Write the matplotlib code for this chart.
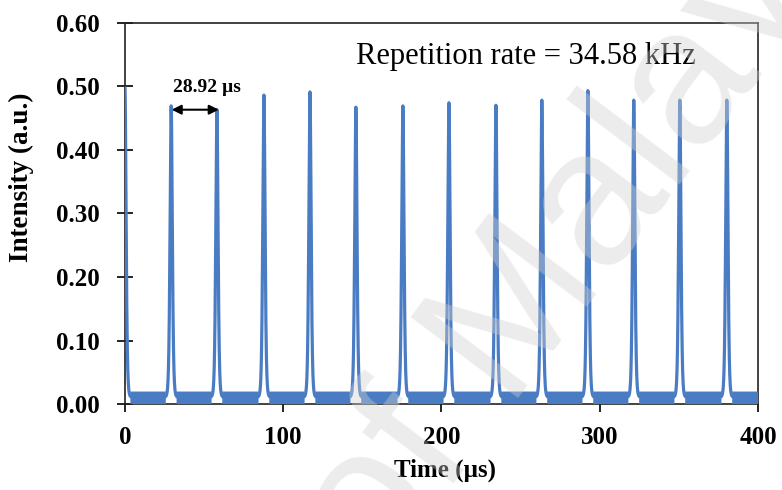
import numpy as np
import matplotlib
matplotlib.use("Agg")
import matplotlib.pyplot as plt

# Pulse train: centre time (µs) and peak intensity (a.u.) of each pulse
peak_times = [0.0, 29.2, 58.1, 87.8, 116.9, 145.9, 175.6, 204.7,
              234.4, 263.4, 292.5, 321.5, 350.6, 380.3]
peak_heights = [0.497, 0.469, 0.463, 0.486, 0.491, 0.467, 0.469, 0.474,
                0.470, 0.478, 0.493, 0.478, 0.478, 0.478]
noise_floor = 0.011
noise_top = 0.020
pulse_tau = 0.95  # sech^2 width parameter, µs

period_label = "28.92 µs"
rate_label = "Repetition rate = 34.58 kHz"

x_ticks = [0, 100, 200, 300, 400]
y_ticks = [0.0, 0.1, 0.2, 0.3, 0.4, 0.5, 0.6]

blue = "#4a7cc4"
serif = "Liberation Serif"

t = np.linspace(0, 400, 16001)
pulses = np.zeros_like(t)
for tc, h in zip(peak_times, peak_heights):
    pulses += (h - noise_floor) / np.cosh((t - tc) / pulse_tau) ** 2
signal = noise_floor + pulses

fig = plt.figure(figsize=(7.82, 4.90), dpi=100)
ax = fig.add_axes([0.1598, 0.175, 0.8095, 0.779])

ax.plot(t, signal, color=blue, lw=2.3, zorder=3, solid_joinstyle="round")
floor_mask = pulses < 0.0015
ax.fill_between(t, -0.001, noise_top, where=floor_mask, color=blue,
                lw=0, zorder=3)

ax.set_xlim(0, 400)
ax.set_ylim(0, 0.6)
ax.set_xticks(x_ticks)
ax.set_yticks(y_ticks)
ax.set_xticklabels([f"{v:d}" for v in x_ticks])
ax.set_yticklabels([f"{v:.2f}" for v in y_ticks])
ax.tick_params(axis="y", direction="inout", length=12, width=1.2, pad=12)
ax.tick_params(axis="x", direction="out", length=6, width=1.2, pad=10)
for lab in ax.get_xticklabels() + ax.get_yticklabels():
    lab.set_fontfamily(serif)
    lab.set_fontweight("bold")
    lab.set_fontsize(18)
for side in ["left", "bottom", "top", "right"]:
    ax.spines[side].set_linewidth(1.2)
    ax.spines[side].set_color("#222222")

ax.set_xlabel("Time (µs)", fontfamily=serif, fontweight="bold", fontsize=18)
ax.set_ylabel("Intensity (a.u.)", fontfamily=serif, fontweight="bold",
              fontsize=19.5)
ax.xaxis.set_label_coords(0.5055, -0.142)
ax.yaxis.set_label_coords(-0.143, 0.594)

# period marker between the second and third pulses
ax.annotate("", xy=(peak_times[2] + 1.2, 0.463), xytext=(peak_times[1] + 0.3, 0.463),
            arrowprops=dict(arrowstyle="<|-|>", color="black", lw=1.5,
                            mutation_scale=14, shrinkA=0, shrinkB=0),
            zorder=5)
ax.text(51.5, 0.4915, period_label, ha="center", va="baseline",
        fontfamily=serif, fontweight="bold", fontsize=14)
ax.text(253.6, 0.5346, rate_label, ha="center", va="baseline",
        fontfamily=serif, fontsize=22)

# repository watermark
fig.text(0.758, 0.56, "of Malaya", fontfamily="Liberation Sans",
         fontsize=140, color="#d0d0d0", alpha=0.4, rotation=53,
         ha="center", va="center", zorder=10)

fig.savefig("out.png", dpi=100)
